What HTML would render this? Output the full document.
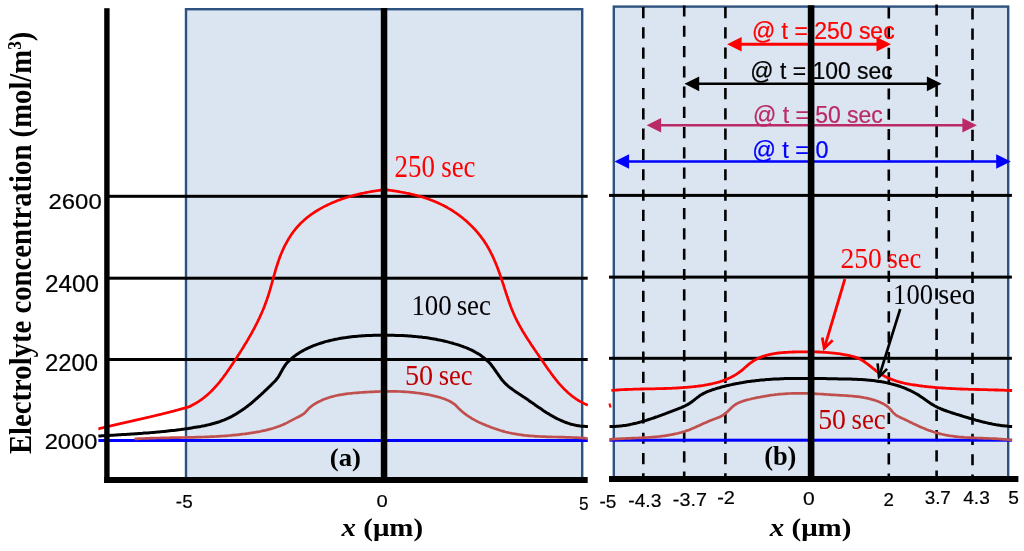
<!DOCTYPE html><html><head><meta charset="utf-8"><title>Electrolyte concentration</title>
<style>html,body{margin:0;padding:0;background:#fff;width:1024px;height:551px;overflow:hidden}svg{display:block;filter:blur(0.4px)}text{font-size:100px}</style></head><body>
<svg width="1024" height="551" viewBox="0 0 1024 551">
<rect width="1024" height="551" fill="#fff"/>
<rect x="186" y="9.2" width="396.2" height="472" fill="#DBE5F1" stroke="#2E5280" stroke-width="2.4"/>
<rect x="613.8" y="6.6" width="394.4" height="472" fill="#DBE5F1" stroke="#2E5280" stroke-width="2.4"/>
<line x1="643.3" y1="7.0" x2="643.3" y2="478" stroke="#000" stroke-width="2.6" stroke-dasharray="11.2 9.07"/>
<line x1="684.2" y1="5.4" x2="684.2" y2="478" stroke="#000" stroke-width="2.6" stroke-dasharray="11.2 9.07"/>
<line x1="725.4" y1="7.0" x2="725.4" y2="478" stroke="#000" stroke-width="2.6" stroke-dasharray="11.2 9.07"/>
<line x1="888.8" y1="7.3" x2="888.8" y2="478" stroke="#000" stroke-width="2.6" stroke-dasharray="11.2 9.07"/>
<line x1="936.6" y1="4.4" x2="936.6" y2="478" stroke="#000" stroke-width="2.6" stroke-dasharray="11.2 9.07"/>
<line x1="972.5" y1="8.2" x2="972.5" y2="478" stroke="#000" stroke-width="2.6" stroke-dasharray="11.2 9.07"/>
<rect x="109" y="194.8" width="478.7" height="3" fill="#000"/>
<rect x="109" y="276.7" width="478.7" height="3" fill="#000"/>
<rect x="109" y="358.0" width="478.7" height="3" fill="#000"/>
<rect x="609" y="193.9" width="402.9" height="3" fill="#000"/>
<rect x="609" y="275.6" width="402.9" height="3" fill="#000"/>
<rect x="609" y="356.8" width="402.9" height="3" fill="#000"/>
<rect x="98.4" y="439" width="489.4" height="3" fill="#0000FF"/>
<rect x="609.5" y="438.7" width="402.6" height="3" fill="#0000FF"/>
<path d="M134.5,438.9 L136.1,438.9 L137.6,438.8 L139.2,438.7 L140.8,438.6 L142.4,438.5 L143.9,438.5 L145.5,438.4 L147.1,438.3 L148.7,438.3 L150.2,438.2 L151.8,438.2 L153.4,438.1 L155.0,438.1 L156.6,438.0 L158.1,438.0 L159.7,438.0 L161.3,437.9 L162.9,437.9 L164.5,437.8 L166.1,437.8 L167.7,437.8 L169.2,437.8 L170.8,437.7 L172.4,437.7 L174.0,437.7 L175.6,437.6 L177.2,437.6 L178.8,437.6 L180.4,437.6 L182.0,437.5 L183.5,437.5 L185.1,437.5 L186.7,437.4 L188.3,437.4 L189.9,437.4 L191.5,437.3 L193.1,437.3 L194.7,437.3 L196.3,437.2 L197.9,437.2 L199.4,437.1 L201.0,437.1 L202.6,437.0 L204.2,437.0 L205.8,436.9 L207.4,436.9 L209.0,436.8 L210.6,436.7 L212.1,436.7 L213.7,436.6 L215.3,436.5 L216.9,436.4 L218.5,436.3 L220.1,436.2 L221.6,436.1 L223.2,436.0 L224.8,435.9 L226.4,435.8 L228.0,435.7 L229.5,435.5 L231.1,435.4 L232.7,435.2 L234.3,435.1 L235.8,434.9 L237.4,434.8 L239.0,434.6 L240.6,434.4 L242.1,434.2 L243.7,434.0 L245.3,433.8 L246.8,433.6 L248.4,433.4 L249.9,433.1 L251.5,432.9 L253.1,432.6 L254.6,432.4 L256.2,432.1 L257.7,431.8 L259.3,431.6 L260.8,431.3 L262.4,430.9 L263.9,430.6 L265.5,430.3 L267.0,429.9 L268.5,429.5 L270.0,429.1 L271.6,428.7 L273.1,428.3 L274.6,427.8 L276.1,427.3 L277.6,426.8 L279.1,426.3 L280.5,425.7 L282.0,425.1 L283.5,424.5 L284.9,423.8 L286.4,423.1 L287.8,422.4 L289.2,421.6 L290.6,420.9 L292.0,420.1 L293.5,419.4 L294.9,418.6 L296.3,417.9 L297.7,417.2 L299.1,416.5 L300.5,415.8 L301.8,415.0 L303.1,414.2 L304.3,413.3 L305.5,412.2 L306.5,411.0 L307.6,409.8 L308.7,408.6 L309.8,407.6 L311.1,406.5 L312.3,405.6 L313.6,404.7 L315.0,403.8 L316.3,403.0 L317.7,402.3 L319.1,401.5 L320.5,400.9 L321.9,400.2 L323.3,399.6 L324.8,399.0 L326.3,398.5 L327.7,398.0 L329.2,397.5 L330.7,397.0 L332.2,396.6 L333.8,396.2 L335.3,395.8 L336.8,395.5 L338.4,395.2 L339.9,394.9 L341.5,394.6 L343.1,394.4 L344.6,394.1 L346.2,393.9 L347.8,393.7 L349.4,393.5 L351.0,393.3 L352.6,393.2 L354.2,393.0 L355.8,392.9 L357.4,392.8 L359.0,392.6 L360.6,392.5 L362.2,392.4 L363.8,392.3 L365.4,392.2 L367.0,392.1 L368.6,392.0 L370.2,391.9 L371.8,391.8 L373.4,391.8 L374.9,391.7 L376.5,391.6 L378.1,391.6 L379.7,391.5 L381.3,391.5 L382.9,391.4 L384.4,391.4 L386.0,391.4 L387.6,391.4 L389.2,391.3 L390.7,391.3 L392.3,391.4 L393.9,391.4 L395.5,391.4 L397.0,391.4 L398.6,391.5 L400.2,391.5 L401.7,391.6 L403.3,391.7 L404.9,391.8 L406.4,391.9 L408.0,392.0 L409.6,392.1 L411.1,392.3 L412.7,392.4 L414.3,392.6 L415.8,392.8 L417.4,393.0 L419.0,393.2 L420.5,393.4 L422.1,393.6 L423.7,393.9 L425.2,394.1 L426.8,394.4 L428.4,394.7 L429.9,395.0 L431.5,395.4 L433.1,395.7 L434.6,396.1 L436.2,396.5 L437.8,396.9 L439.3,397.3 L440.8,397.8 L442.3,398.3 L443.9,398.8 L445.3,399.3 L446.8,399.9 L448.2,400.6 L449.6,401.2 L451.0,402.0 L452.4,402.8 L453.6,403.7 L454.9,404.6 L456.1,405.7 L457.2,406.8 L458.3,408.0 L459.4,409.1 L460.6,410.2 L461.8,411.3 L463.0,412.3 L464.2,413.3 L465.5,414.2 L466.7,415.1 L468.0,416.0 L469.3,416.9 L470.7,417.7 L472.0,418.6 L473.4,419.3 L474.8,420.1 L476.2,420.8 L477.6,421.6 L479.0,422.3 L480.5,422.9 L481.9,423.6 L483.4,424.2 L484.9,424.8 L486.3,425.5 L487.8,426.0 L489.3,426.6 L490.8,427.2 L492.3,427.7 L493.8,428.3 L495.3,428.8 L496.8,429.3 L498.3,429.8 L499.8,430.3 L501.3,430.7 L502.8,431.1 L504.3,431.6 L505.8,432.0 L507.4,432.3 L508.9,432.7 L510.4,433.0 L512.0,433.4 L513.5,433.7 L515.1,433.9 L516.6,434.2 L518.2,434.4 L519.7,434.7 L521.3,434.9 L522.9,435.1 L524.4,435.3 L526.0,435.5 L527.6,435.6 L529.2,435.8 L530.7,435.9 L532.3,436.0 L533.9,436.1 L535.5,436.3 L537.1,436.3 L538.7,436.4 L540.2,436.5 L541.8,436.6 L543.4,436.7 L545.0,436.7 L546.6,436.8 L548.2,436.8 L549.8,436.9 L551.4,436.9 L553.0,437.0 L554.6,437.0 L556.2,437.0 L557.8,437.1 L559.4,437.1 L561.0,437.2 L562.5,437.2 L564.1,437.2 L565.7,437.3 L567.3,437.3 L568.9,437.4 L570.5,437.4 L572.1,437.5 L573.6,437.6 L575.2,437.6 L576.8,437.7 L578.4,437.8 L580.0,437.9 L581.5,438.0 L583.1,438.1 L584.7,438.2 L586.2,438.4 L587.8,438.5" fill="none" stroke="#C0504D" stroke-width="2.7" stroke-linejoin="round" stroke-linecap="butt"/>
<path d="M98.4,436.0 L100.2,435.9 L102.1,435.8 L103.9,435.7 L105.8,435.6 L107.6,435.5 L109.4,435.4 L111.3,435.3 L113.1,435.2 L114.9,435.1 L116.8,434.9 L118.6,434.8 L120.4,434.7 L122.3,434.6 L124.1,434.5 L125.9,434.4 L127.8,434.3 L129.6,434.2 L131.4,434.0 L133.3,433.9 L135.1,433.8 L136.9,433.7 L138.8,433.5 L140.6,433.4 L142.4,433.3 L144.2,433.1 L146.1,433.0 L147.9,432.9 L149.7,432.7 L151.5,432.6 L153.4,432.4 L155.2,432.2 L157.0,432.1 L158.9,431.9 L160.7,431.7 L162.5,431.6 L164.3,431.4 L166.2,431.2 L168.0,431.0 L169.8,430.8 L171.6,430.6 L173.5,430.4 L175.3,430.2 L177.1,429.9 L178.9,429.7 L180.8,429.5 L182.6,429.2 L184.4,429.0 L186.2,428.7 L188.1,428.5 L189.9,428.2 L191.7,427.9 L193.5,427.6 L195.4,427.3 L197.2,427.0 L199.0,426.7 L200.8,426.4 L202.6,426.0 L204.5,425.7 L206.3,425.3 L208.1,424.9 L209.8,424.5 L211.6,424.0 L213.4,423.5 L215.2,423.0 L216.9,422.5 L218.6,422.0 L220.4,421.4 L222.1,420.7 L223.8,420.1 L225.5,419.4 L227.1,418.7 L228.8,417.9 L230.4,417.1 L232.0,416.3 L233.6,415.4 L235.2,414.5 L236.8,413.6 L238.3,412.6 L239.9,411.6 L241.4,410.6 L242.9,409.5 L244.4,408.5 L245.9,407.4 L247.4,406.3 L248.8,405.1 L250.3,404.0 L251.7,402.8 L253.1,401.6 L254.5,400.4 L255.9,399.2 L257.3,398.0 L258.7,396.7 L260.1,395.5 L261.4,394.2 L262.8,393.0 L264.1,391.7 L265.5,390.4 L266.8,389.2 L268.1,387.9 L269.4,386.6 L270.8,385.4 L272.0,384.1 L273.3,382.8 L274.6,381.5 L275.8,380.2 L276.9,378.8 L278.0,377.3 L279.0,375.8 L279.9,374.2 L280.8,372.6 L281.7,371.0 L282.6,369.3 L283.6,367.7 L284.6,366.2 L285.6,364.7 L286.7,363.2 L288.0,361.8 L289.3,360.6 L290.6,359.3 L292.0,358.1 L293.4,357.0 L294.9,355.9 L296.4,354.8 L297.9,353.8 L299.4,352.8 L301.0,351.8 L302.6,350.9 L304.2,350.0 L305.8,349.2 L307.4,348.4 L309.1,347.6 L310.8,346.8 L312.5,346.1 L314.2,345.4 L315.9,344.8 L317.7,344.2 L319.4,343.6 L321.2,343.0 L323.0,342.5 L324.7,341.9 L326.5,341.4 L328.3,341.0 L330.1,340.5 L331.9,340.1 L333.7,339.7 L335.5,339.3 L337.3,339.0 L339.1,338.6 L340.9,338.3 L342.7,338.0 L344.5,337.7 L346.3,337.5 L348.1,337.2 L349.9,337.0 L351.7,336.8 L353.6,336.6 L355.4,336.4 L357.2,336.2 L359.0,336.1 L360.8,335.9 L362.7,335.8 L364.5,335.7 L366.3,335.6 L368.1,335.5 L370.0,335.4 L371.8,335.4 L373.6,335.3 L375.5,335.3 L377.3,335.3 L379.1,335.2 L381.0,335.2 L382.8,335.2 L384.7,335.2 L386.5,335.2 L388.3,335.2 L390.2,335.2 L392.0,335.3 L393.9,335.3 L395.7,335.4 L397.5,335.4 L399.4,335.5 L401.2,335.6 L403.1,335.6 L404.9,335.7 L406.7,335.8 L408.6,336.0 L410.4,336.1 L412.2,336.2 L414.1,336.4 L415.9,336.6 L417.7,336.7 L419.6,336.9 L421.4,337.1 L423.2,337.4 L425.0,337.6 L426.9,337.8 L428.7,338.1 L430.5,338.4 L432.3,338.7 L434.1,339.0 L435.9,339.3 L437.7,339.7 L439.5,340.0 L441.3,340.4 L443.1,340.8 L444.9,341.2 L446.7,341.6 L448.5,342.1 L450.3,342.6 L452.1,343.0 L453.8,343.6 L455.6,344.1 L457.4,344.6 L459.1,345.2 L460.9,345.8 L462.6,346.4 L464.3,347.1 L466.0,347.7 L467.7,348.4 L469.4,349.2 L471.1,349.9 L472.7,350.7 L474.4,351.6 L475.9,352.5 L477.5,353.4 L479.1,354.3 L480.6,355.3 L482.0,356.4 L483.5,357.5 L484.9,358.6 L486.2,359.8 L487.6,361.0 L488.9,362.3 L490.1,363.6 L491.3,365.0 L492.4,366.5 L493.6,368.0 L494.6,369.5 L495.7,371.0 L496.8,372.6 L497.9,374.1 L498.9,375.7 L500.0,377.2 L501.1,378.7 L502.3,380.2 L503.5,381.6 L504.7,382.9 L506.0,384.2 L507.3,385.4 L508.7,386.6 L510.1,387.7 L511.6,388.8 L513.1,389.9 L514.5,390.9 L516.1,391.9 L517.6,392.9 L519.1,394.0 L520.7,395.0 L522.2,396.0 L523.7,397.0 L525.3,398.0 L526.8,399.1 L528.3,400.1 L529.8,401.2 L531.3,402.3 L532.9,403.3 L534.4,404.4 L535.9,405.5 L537.4,406.5 L538.9,407.6 L540.5,408.6 L542.0,409.6 L543.5,410.7 L545.1,411.7 L546.6,412.7 L548.2,413.6 L549.7,414.6 L551.3,415.5 L552.9,416.4 L554.5,417.3 L556.1,418.1 L557.7,419.0 L559.3,419.7 L561.0,420.5 L562.7,421.2 L564.3,421.9 L566.0,422.5 L567.7,423.1 L569.5,423.7 L571.2,424.2 L573.0,424.6 L574.7,425.1 L576.6,425.4 L578.4,425.7 L580.2,426.0 L582.1,426.2 L584.0,426.3 L585.9,426.4 L587.9,426.4" fill="none" stroke="#000000" stroke-width="3.0" stroke-linejoin="round" stroke-linecap="butt"/>
<path d="M98.4,428.8 L98.7,428.8 L99.0,428.7 L99.3,428.6 L99.6,428.5 L99.9,428.4 L100.2,428.4 L100.6,428.3 L100.9,428.2 L101.2,428.1 L101.5,428.1 L101.8,428.0 L102.1,427.9 L102.4,427.8 L102.7,427.8 L103.0,427.7 L103.3,427.6 L103.6,427.5 L103.9,427.5 L104.2,427.4 L104.5,427.3 L104.9,427.2 L105.2,427.2 L105.5,427.1 L105.8,427.0 L106.1,427.0 L106.4,426.9 L106.7,426.8 L107.0,426.7 L107.3,426.7 L107.6,426.6 L107.9,426.5 L108.2,426.4 L108.5,426.4 L108.9,426.3 L109.2,426.2 L109.5,426.1 L109.8,426.1 L110.1,426.0 L110.4,425.9 L110.7,425.9 L111.0,425.8 L111.3,425.7 L111.6,425.6 L111.9,425.6 L112.2,425.5 L112.5,425.4 L112.9,425.4 L113.2,425.3 L113.5,425.2 L113.8,425.1 L114.1,425.1 L114.4,425.0 L114.7,424.9 L115.0,424.9 L115.3,424.8 L115.6,424.7 L115.9,424.6 L116.2,424.6 L116.5,424.5 L116.9,424.4 L117.2,424.4 L117.5,424.3 L117.8,424.2 L118.1,424.1 L118.4,424.1 L118.7,424.0 L119.0,423.9 L119.3,423.9 L119.6,423.8 L119.9,423.7 L120.2,423.6 L120.6,423.6 L120.9,423.5 L121.2,423.4 L121.5,423.4 L121.8,423.3 L122.1,423.2 L122.4,423.2 L122.7,423.1 L123.0,423.0 L123.3,422.9 L123.6,422.9 L123.9,422.8 L124.3,422.7 L124.6,422.7 L124.9,422.6 L125.2,422.5 L125.5,422.5 L125.8,422.4 L126.1,422.3 L126.4,422.2 L126.7,422.2 L127.0,422.1 L127.3,422.0 L127.6,422.0 L128.0,421.9 L128.3,421.8 L128.6,421.8 L128.9,421.7 L129.2,421.6 L129.5,421.5 L129.8,421.5 L130.1,421.4 L130.4,421.3 L130.7,421.3 L131.0,421.2 L131.4,421.1 L131.7,421.1 L132.0,421.0 L132.3,420.9 L132.6,420.8 L132.9,420.8 L133.2,420.7 L133.5,420.6 L133.8,420.6 L134.1,420.5 L134.4,420.4 L134.7,420.4 L135.1,420.3 L135.4,420.2 L135.7,420.2 L136.0,420.1 L136.3,420.0 L136.6,419.9 L136.9,419.9 L137.2,419.8 L137.5,419.7 L137.8,419.7 L138.1,419.6 L138.4,419.5 L138.8,419.5 L139.1,419.4 L139.4,419.3 L139.7,419.2 L140.0,419.2 L140.3,419.1 L140.6,419.0 L140.9,419.0 L141.2,418.9 L141.5,418.8 L141.8,418.8 L142.1,418.7 L142.5,418.6 L142.8,418.5 L143.1,418.5 L143.4,418.4 L143.7,418.3 L144.0,418.3 L144.3,418.2 L144.6,418.1 L144.9,418.0 L145.2,418.0 L145.5,417.9 L145.8,417.8 L146.2,417.8 L146.5,417.7 L146.8,417.6 L147.1,417.5 L147.4,417.5 L147.7,417.4 L148.0,417.3 L148.3,417.3 L148.6,417.2 L148.9,417.1 L149.2,417.0 L149.5,417.0 L149.9,416.9 L150.2,416.8 L150.5,416.8 L150.8,416.7 L151.1,416.6 L151.4,416.5 L151.7,416.5 L152.0,416.4 L152.3,416.3 L152.6,416.3 L152.9,416.2 L153.2,416.1 L153.5,416.0 L153.9,416.0 L154.2,415.9 L154.5,415.8 L154.8,415.7 L155.1,415.7 L155.4,415.6 L155.7,415.5 L156.0,415.5 L156.3,415.4 L156.6,415.3 L156.9,415.2 L157.2,415.2 L157.5,415.1 L157.9,415.0 L158.2,414.9 L158.5,414.9 L158.8,414.8 L159.1,414.7 L159.4,414.6 L159.7,414.6 L160.0,414.5 L160.3,414.4 L160.6,414.3 L160.9,414.3 L161.2,414.2 L161.5,414.1 L161.8,414.0 L162.2,414.0 L162.5,413.9 L162.8,413.8 L163.1,413.7 L163.4,413.7 L163.7,413.6 L164.0,413.5 L164.3,413.4 L164.6,413.4 L164.9,413.3 L165.2,413.2 L165.5,413.1 L165.8,413.1 L166.1,413.0 L166.4,412.9 L166.8,412.8 L167.1,412.7 L167.4,412.7 L167.7,412.6 L168.0,412.5 L168.3,412.4 L168.6,412.4 L168.9,412.3 L169.2,412.2 L169.5,412.1 L169.8,412.0 L170.1,412.0 L170.4,411.9 L170.7,411.8 L171.0,411.7 L171.3,411.6 L171.7,411.6 L172.0,411.5 L172.3,411.4 L172.6,411.3 L172.9,411.3 L173.2,411.2 L173.5,411.1 L173.8,411.0 L174.1,410.9 L174.4,410.8 L174.7,410.8 L175.0,410.7 L175.3,410.6 L175.6,410.5 L175.9,410.4 L176.2,410.4 L176.5,410.3 L176.8,410.2 L177.2,410.1 L177.5,410.0 L177.8,409.9 L178.1,409.9 L178.4,409.8 L178.7,409.7 L179.0,409.6 L179.3,409.5 L179.6,409.4 L179.9,409.4 L180.2,409.3 L180.5,409.2 L180.8,409.1 L181.1,409.0 L181.4,408.9 L181.7,408.9 L182.0,408.8 L182.3,408.7 L182.6,408.6 L182.9,408.5 L183.2,408.4 L183.6,408.3 L183.9,408.3 L184.2,408.2 L184.5,408.1 L184.8,408.0 L185.1,407.9 L185.4,407.8 L185.7,407.7 L186.0,407.6 L186.3,407.6 L186.6,407.5 L186.9,407.4 L187.2,407.3 L187.5,407.2 L187.8,407.1 L188.1,407.0 L188.4,406.9 L188.7,406.8 L189.0,406.8 L189.3,406.7 L189.6,406.6 L189.9,406.5 L190.2,406.4 L190.0,406.2 L191.0,405.8 L192.0,405.3 L192.9,404.8 L193.9,404.3 L194.8,403.8 L195.8,403.2 L196.7,402.7 L197.6,402.1 L198.5,401.6 L199.3,401.0 L200.2,400.4 L201.1,399.8 L201.9,399.2 L202.7,398.6 L203.6,398.0 L204.4,397.3 L205.2,396.7 L206.0,396.0 L206.8,395.4 L207.5,394.7 L208.3,394.0 L209.1,393.3 L209.8,392.6 L210.6,391.9 L211.3,391.2 L212.0,390.5 L212.7,389.7 L213.4,389.0 L214.2,388.3 L214.8,387.5 L215.5,386.7 L216.2,386.0 L216.9,385.2 L217.6,384.4 L218.2,383.6 L218.9,382.9 L219.5,382.1 L220.2,381.3 L220.8,380.4 L221.4,379.6 L222.1,378.8 L222.7,378.0 L223.3,377.2 L223.9,376.3 L224.5,375.5 L225.2,374.7 L225.8,373.8 L226.4,373.0 L227.0,372.1 L227.5,371.3 L228.1,370.4 L228.7,369.6 L229.3,368.7 L229.9,367.9 L230.5,367.0 L231.1,366.1 L231.6,365.3 L232.2,364.4 L232.8,363.6 L233.4,362.7 L233.9,361.8 L234.5,360.9 L235.1,360.1 L235.7,359.2 L236.2,358.3 L236.8,357.5 L237.4,356.6 L237.9,355.7 L238.5,354.8 L239.1,354.0 L239.6,353.1 L240.2,352.2 L240.7,351.3 L241.3,350.4 L241.8,349.6 L242.4,348.7 L243.0,347.8 L243.5,346.9 L244.0,346.0 L244.6,345.1 L245.1,344.2 L245.7,343.3 L246.2,342.5 L246.7,341.6 L247.3,340.7 L247.8,339.8 L248.3,338.9 L248.8,338.0 L249.4,337.1 L249.9,336.2 L250.4,335.3 L250.9,334.4 L251.4,333.5 L251.9,332.6 L252.4,331.6 L252.9,330.7 L253.4,329.8 L253.9,328.9 L254.4,328.0 L254.9,327.1 L255.3,326.2 L255.8,325.2 L256.3,324.3 L256.7,323.4 L257.2,322.5 L257.7,321.5 L258.1,320.6 L258.6,319.7 L259.0,318.8 L259.5,317.8 L259.9,316.9 L260.3,315.9 L260.7,315.0 L261.2,314.1 L261.6,313.1 L262.0,312.2 L262.4,311.2 L262.8,310.3 L263.2,309.3 L263.6,308.4 L264.0,307.4 L264.4,306.5 L264.7,305.5 L265.1,304.5 L265.5,303.6 L265.8,302.6 L266.2,301.6 L266.5,300.7 L266.9,299.7 L267.2,298.7 L267.5,297.7 L267.9,296.8 L268.2,295.8 L268.5,294.8 L268.8,293.8 L269.1,292.8 L269.4,291.8 L269.7,290.8 L270.0,289.9 L270.3,288.9 L270.6,287.9 L270.9,286.9 L271.1,285.9 L271.4,284.9 L271.7,283.9 L272.0,282.9 L272.3,281.9 L272.5,280.9 L272.8,279.9 L273.1,278.9 L273.4,277.9 L273.6,276.9 L273.9,275.9 L274.2,274.9 L274.5,273.9 L274.8,272.9 L275.1,271.9 L275.3,270.9 L275.6,269.9 L275.9,268.9 L276.2,267.9 L276.5,266.9 L276.8,265.9 L277.2,265.0 L277.5,264.0 L277.8,263.0 L278.1,262.0 L278.5,261.0 L278.8,260.1 L279.2,259.1 L279.5,258.1 L279.9,257.1 L280.2,256.2 L280.6,255.2 L281.0,254.2 L281.4,253.3 L281.8,252.3 L282.2,251.4 L282.6,250.4 L283.1,249.5 L283.5,248.5 L283.9,247.6 L284.4,246.7 L284.8,245.7 L285.3,244.8 L285.8,243.9 L286.3,243.0 L286.8,242.1 L287.3,241.2 L287.8,240.3 L288.3,239.4 L288.8,238.5 L289.4,237.7 L289.9,236.8 L290.5,235.9 L291.0,235.1 L291.6,234.2 L292.2,233.4 L292.8,232.6 L293.4,231.7 L294.0,230.9 L294.7,230.1 L295.3,229.3 L295.9,228.5 L296.6,227.8 L297.3,227.0 L297.9,226.2 L298.6,225.5 L299.3,224.8 L300.0,224.0 L300.7,223.3 L301.5,222.6 L302.2,221.9 L303.0,221.2 L303.7,220.5 L304.5,219.8 L305.2,219.2 L306.0,218.5 L306.8,217.8 L307.6,217.2 L308.4,216.6 L309.2,215.9 L310.1,215.3 L310.9,214.7 L311.7,214.1 L312.6,213.5 L313.4,213.0 L314.3,212.4 L315.1,211.8 L316.0,211.3 L316.9,210.7 L317.8,210.2 L318.7,209.6 L319.6,209.1 L320.5,208.6 L321.4,208.1 L322.3,207.6 L323.2,207.1 L324.1,206.6 L325.1,206.1 L326.0,205.7 L327.0,205.2 L327.9,204.7 L328.9,204.3 L329.8,203.9 L330.8,203.4 L331.7,203.0 L332.7,202.6 L333.7,202.2 L334.6,201.8 L335.6,201.4 L336.6,201.0 L337.6,200.6 L338.6,200.2 L339.6,199.9 L340.6,199.5 L341.6,199.1 L342.6,198.8 L343.6,198.5 L344.6,198.1 L345.6,197.8 L346.6,197.5 L347.6,197.2 L348.6,196.8 L349.6,196.5 L350.7,196.3 L351.7,196.0 L352.7,195.7 L353.7,195.4 L354.7,195.1 L355.7,194.9 L356.8,194.6 L357.8,194.4 L358.8,194.1 L359.8,193.9 L360.8,193.6 L361.9,193.4 L362.9,193.2 L363.9,193.0 L364.9,192.8 L365.9,192.6 L367.0,192.4 L368.0,192.2 L369.0,192.0 L370.0,191.8 L371.0,191.6 L372.0,191.4 L373.0,191.3 L374.0,191.1 L375.0,191.0 L376.0,190.8 L377.0,190.7 L378.0,190.5 L379.0,190.4 L380.0,190.3 L381.0,190.1 L381.9,190.0 L382.9,189.9 L383.9,189.8 L383.9,189.5 L385.0,189.7 L386.0,189.8 L387.1,189.9 L388.1,190.1 L389.2,190.2 L390.2,190.3 L391.3,190.5 L392.3,190.6 L393.4,190.8 L394.4,190.9 L395.5,191.1 L396.5,191.3 L397.6,191.4 L398.6,191.6 L399.7,191.8 L400.7,192.0 L401.7,192.2 L402.8,192.4 L403.8,192.5 L404.9,192.7 L405.9,193.0 L406.9,193.2 L408.0,193.4 L409.0,193.6 L410.0,193.8 L411.0,194.1 L412.1,194.3 L413.1,194.5 L414.1,194.8 L415.1,195.1 L416.1,195.3 L417.1,195.6 L418.2,195.9 L419.2,196.1 L420.2,196.4 L421.2,196.7 L422.2,197.0 L423.2,197.3 L424.2,197.6 L425.2,198.0 L426.2,198.3 L427.2,198.6 L428.1,199.0 L429.1,199.3 L430.1,199.7 L431.1,200.0 L432.1,200.4 L433.0,200.8 L434.0,201.2 L435.0,201.6 L435.9,202.0 L436.9,202.4 L437.8,202.8 L438.8,203.3 L439.7,203.7 L440.7,204.1 L441.6,204.6 L442.6,205.1 L443.5,205.5 L444.4,206.0 L445.4,206.5 L446.3,207.0 L447.2,207.5 L448.1,208.1 L449.1,208.6 L450.0,209.1 L450.9,209.7 L451.8,210.2 L452.7,210.8 L453.6,211.4 L454.4,212.0 L455.3,212.6 L456.2,213.2 L457.1,213.8 L457.9,214.4 L458.8,215.0 L459.6,215.7 L460.5,216.3 L461.3,217.0 L462.2,217.6 L463.0,218.3 L463.8,219.0 L464.7,219.7 L465.5,220.3 L466.3,221.0 L467.1,221.8 L467.9,222.5 L468.6,223.2 L469.4,223.9 L470.2,224.7 L471.0,225.4 L471.7,226.2 L472.5,226.9 L473.2,227.7 L473.9,228.5 L474.7,229.2 L475.4,230.0 L476.1,230.8 L476.8,231.6 L477.5,232.4 L478.1,233.2 L478.8,234.0 L479.5,234.9 L480.1,235.7 L480.8,236.5 L481.4,237.4 L482.0,238.2 L482.7,239.1 L483.3,239.9 L483.9,240.8 L484.5,241.7 L485.0,242.6 L485.6,243.4 L486.2,244.3 L486.7,245.2 L487.2,246.1 L487.8,247.0 L488.3,247.9 L488.8,248.8 L489.3,249.7 L489.8,250.7 L490.3,251.6 L490.8,252.5 L491.2,253.4 L491.7,254.4 L492.2,255.3 L492.6,256.2 L493.1,257.2 L493.5,258.1 L493.9,259.1 L494.3,260.0 L494.7,261.0 L495.2,262.0 L495.6,262.9 L496.0,263.9 L496.4,264.9 L496.7,265.8 L497.1,266.8 L497.5,267.8 L497.9,268.8 L498.2,269.8 L498.6,270.7 L499.0,271.7 L499.3,272.7 L499.7,273.7 L500.0,274.7 L500.4,275.7 L500.7,276.7 L501.0,277.7 L501.4,278.7 L501.7,279.7 L502.0,280.7 L502.4,281.7 L502.7,282.6 L503.0,283.6 L503.3,284.6 L503.7,285.6 L504.0,286.6 L504.3,287.6 L504.6,288.6 L504.9,289.6 L505.3,290.6 L505.6,291.6 L505.9,292.6 L506.2,293.6 L506.6,294.6 L506.9,295.6 L507.2,296.6 L507.6,297.6 L507.9,298.6 L508.2,299.6 L508.6,300.6 L508.9,301.6 L509.3,302.6 L509.6,303.6 L510.0,304.5 L510.4,305.5 L510.7,306.5 L511.1,307.5 L511.5,308.4 L511.9,309.4 L512.3,310.4 L512.7,311.4 L513.1,312.3 L513.5,313.3 L513.9,314.2 L514.3,315.2 L514.8,316.1 L515.2,317.1 L515.6,318.0 L516.1,319.0 L516.6,319.9 L517.0,320.9 L517.5,321.8 L518.0,322.7 L518.5,323.6 L519.0,324.6 L519.5,325.5 L520.0,326.4 L520.5,327.3 L521.0,328.2 L521.6,329.1 L522.1,330.1 L522.6,331.0 L523.2,331.9 L523.7,332.8 L524.3,333.7 L524.8,334.6 L525.4,335.5 L525.9,336.4 L526.5,337.3 L527.1,338.2 L527.6,339.0 L528.2,339.9 L528.8,340.8 L529.4,341.7 L530.0,342.6 L530.6,343.5 L531.1,344.4 L531.7,345.3 L532.3,346.1 L532.9,347.0 L533.5,347.9 L534.1,348.8 L534.7,349.7 L535.3,350.5 L535.9,351.4 L536.5,352.3 L537.1,353.2 L537.7,354.0 L538.3,354.9 L538.9,355.8 L539.5,356.7 L540.1,357.5 L540.7,358.4 L541.3,359.3 L541.9,360.2 L542.5,361.1 L543.1,361.9 L543.7,362.8 L544.3,363.7 L544.9,364.6 L545.5,365.4 L546.1,366.3 L546.7,367.2 L547.3,368.0 L547.9,368.9 L548.5,369.8 L549.2,370.6 L549.8,371.5 L550.4,372.3 L551.0,373.2 L551.6,374.0 L552.2,374.9 L552.9,375.7 L553.5,376.6 L554.1,377.4 L554.8,378.2 L555.4,379.0 L556.1,379.9 L556.7,380.7 L557.4,381.5 L558.0,382.3 L558.7,383.1 L559.4,383.9 L560.1,384.6 L560.8,385.4 L561.5,386.2 L562.2,386.9 L562.9,387.7 L563.6,388.4 L564.3,389.2 L565.1,389.9 L565.8,390.6 L566.6,391.3 L567.3,392.0 L568.1,392.7 L568.9,393.4 L569.7,394.1 L570.5,394.8 L571.3,395.4 L572.1,396.1 L572.9,396.7 L573.8,397.3 L574.6,397.9 L575.5,398.5 L576.3,399.1 L577.2,399.7 L578.1,400.3 L579.0,400.8 L580.0,401.4 L580.9,401.9 L581.9,402.4 L582.8,402.9 L583.8,403.4 L584.8,403.9 L585.8,404.3 L586.8,404.8 L587.8,405.2" fill="none" stroke="#FF0000" stroke-width="2.7" stroke-linejoin="round" stroke-linecap="butt"/>
<path d="M609.5,439.4 L610.9,439.3 L612.3,439.2 L613.7,439.1 L615.1,439.0 L616.5,438.9 L617.9,438.8 L619.3,438.8 L620.7,438.7 L622.1,438.6 L623.5,438.6 L624.9,438.5 L626.3,438.4 L627.8,438.4 L629.2,438.3 L630.6,438.3 L632.0,438.2 L633.4,438.2 L634.8,438.1 L636.3,438.0 L637.7,438.0 L639.1,437.9 L640.5,437.9 L641.9,437.8 L643.3,437.7 L644.8,437.6 L646.2,437.6 L647.6,437.5 L649.0,437.4 L650.4,437.3 L651.8,437.2 L653.3,437.1 L654.7,436.9 L656.1,436.8 L657.5,436.7 L658.9,436.5 L660.3,436.4 L661.7,436.2 L663.1,436.0 L664.5,435.8 L665.9,435.6 L667.3,435.4 L668.7,435.2 L670.0,434.9 L671.4,434.7 L672.8,434.4 L674.2,434.1 L675.5,433.8 L676.9,433.5 L678.3,433.2 L679.6,432.8 L681.0,432.5 L682.3,432.1 L683.7,431.7 L685.0,431.3 L686.3,430.8 L687.7,430.4 L689.0,429.9 L690.3,429.4 L691.6,428.8 L692.9,428.3 L694.2,427.7 L695.5,427.2 L696.8,426.6 L698.1,426.0 L699.4,425.4 L700.7,424.8 L702.0,424.2 L703.3,423.6 L704.6,423.0 L705.9,422.5 L707.2,421.9 L708.5,421.3 L709.8,420.8 L711.1,420.2 L712.4,419.7 L713.8,419.2 L715.1,418.8 L716.4,418.3 L717.7,417.8 L719.0,417.2 L720.2,416.7 L721.5,416.0 L722.7,415.4 L723.8,414.6 L725.0,413.8 L726.0,412.9 L727.1,412.0 L728.1,411.0 L729.2,410.0 L730.2,409.0 L731.2,408.0 L732.3,407.0 L733.3,406.1 L734.5,405.2 L735.6,404.5 L736.8,403.7 L738.0,403.1 L739.3,402.5 L740.6,402.0 L741.9,401.5 L743.2,401.0 L744.6,400.6 L746.0,400.2 L747.3,399.8 L748.7,399.5 L750.1,399.2 L751.5,398.8 L752.9,398.5 L754.3,398.2 L755.7,397.9 L757.0,397.6 L758.4,397.3 L759.8,397.1 L761.2,396.8 L762.6,396.6 L764.0,396.3 L765.4,396.1 L766.8,395.9 L768.2,395.6 L769.6,395.4 L771.0,395.2 L772.4,395.0 L773.8,394.9 L775.2,394.7 L776.6,394.5 L778.0,394.4 L779.4,394.2 L780.8,394.1 L782.2,394.0 L783.6,393.9 L785.0,393.8 L786.4,393.7 L787.8,393.6 L789.2,393.5 L790.6,393.5 L792.0,393.4 L793.5,393.4 L794.9,393.3 L796.3,393.3 L797.7,393.3 L799.1,393.3 L800.5,393.3 L801.9,393.3 L803.3,393.3 L804.7,393.4 L806.1,393.4 L807.5,393.4 L808.9,393.5 L810.4,393.5 L811.8,393.6 L813.2,393.7 L814.6,393.7 L816.0,393.8 L817.4,393.9 L818.8,394.0 L820.2,394.0 L821.6,394.1 L823.1,394.2 L824.5,394.3 L825.9,394.4 L827.3,394.5 L828.7,394.6 L830.1,394.7 L831.5,394.8 L832.9,394.8 L834.4,394.9 L835.8,395.0 L837.2,395.1 L838.6,395.2 L840.0,395.3 L841.4,395.3 L842.8,395.4 L844.2,395.5 L845.6,395.6 L847.0,395.7 L848.5,395.8 L849.9,395.9 L851.3,396.0 L852.7,396.1 L854.1,396.3 L855.5,396.4 L856.9,396.6 L858.3,396.7 L859.7,396.9 L861.0,397.1 L862.4,397.3 L863.8,397.6 L865.2,397.8 L866.6,398.1 L868.0,398.4 L869.3,398.7 L870.7,399.1 L872.1,399.5 L873.5,399.9 L874.8,400.3 L876.2,400.8 L877.5,401.3 L878.8,401.8 L880.1,402.3 L881.4,402.9 L882.7,403.5 L883.9,404.2 L885.1,404.9 L886.3,405.7 L887.4,406.5 L888.5,407.4 L889.5,408.4 L890.5,409.5 L891.4,410.5 L892.3,411.6 L893.2,412.6 L894.2,413.6 L895.3,414.5 L896.4,415.3 L897.6,416.0 L898.8,416.6 L900.1,417.3 L901.4,417.9 L902.6,418.5 L903.9,419.1 L905.2,419.7 L906.5,420.3 L907.7,420.9 L909.0,421.6 L910.3,422.2 L911.6,422.8 L912.8,423.4 L914.1,424.0 L915.4,424.6 L916.7,425.2 L918.0,425.8 L919.3,426.4 L920.6,427.0 L921.8,427.6 L923.1,428.1 L924.5,428.6 L925.8,429.2 L927.1,429.7 L928.4,430.2 L929.7,430.6 L931.0,431.1 L932.4,431.5 L933.7,432.0 L935.1,432.4 L936.4,432.8 L937.8,433.1 L939.1,433.5 L940.5,433.9 L941.8,434.2 L943.2,434.5 L944.6,434.8 L945.9,435.1 L947.3,435.3 L948.7,435.6 L950.1,435.8 L951.5,436.0 L952.9,436.2 L954.3,436.4 L955.7,436.6 L957.1,436.7 L958.5,436.9 L959.9,437.0 L961.3,437.1 L962.7,437.2 L964.1,437.4 L965.5,437.5 L966.9,437.5 L968.3,437.6 L969.8,437.7 L971.2,437.8 L972.6,437.9 L974.0,437.9 L975.4,438.0 L976.8,438.0 L978.3,438.1 L979.7,438.1 L981.1,438.2 L982.5,438.2 L984.0,438.3 L985.4,438.3 L986.8,438.4 L988.2,438.4 L989.6,438.5 L991.0,438.5 L992.5,438.6 L993.9,438.7 L995.3,438.7 L996.7,438.8 L998.1,438.9 L999.5,439.0 L1000.9,439.1 L1002.3,439.2 L1003.7,439.3 L1005.1,439.4 L1006.5,439.5 L1007.9,439.7 L1009.3,439.8 L1010.7,440.0 L1012.1,440.1" fill="none" stroke="#C0504D" stroke-width="2.7" stroke-linejoin="round" stroke-linecap="butt"/>
<path d="M609.5,426.5 L610.9,426.5 L612.3,426.5 L613.8,426.4 L615.2,426.4 L616.6,426.3 L618.0,426.2 L619.4,426.1 L620.8,425.9 L622.2,425.8 L623.6,425.6 L625.0,425.4 L626.4,425.2 L627.8,424.9 L629.1,424.7 L630.5,424.4 L631.9,424.1 L633.3,423.8 L634.6,423.5 L636.0,423.2 L637.3,422.9 L638.7,422.5 L640.1,422.1 L641.4,421.8 L642.8,421.4 L644.1,421.0 L645.4,420.6 L646.8,420.2 L648.1,419.7 L649.5,419.3 L650.8,418.9 L652.1,418.4 L653.5,418.0 L654.8,417.5 L656.1,417.0 L657.5,416.6 L658.8,416.1 L660.1,415.6 L661.5,415.1 L662.8,414.6 L664.1,414.2 L665.5,413.7 L666.8,413.2 L668.1,412.7 L669.4,412.2 L670.8,411.7 L672.1,411.2 L673.4,410.7 L674.7,410.2 L676.0,409.7 L677.3,409.2 L678.6,408.6 L679.9,408.1 L681.2,407.6 L682.5,407.0 L683.8,406.5 L685.1,405.9 L686.3,405.2 L687.5,404.6 L688.7,403.9 L689.9,403.1 L691.1,402.4 L692.2,401.5 L693.3,400.7 L694.4,399.8 L695.5,398.9 L696.6,398.1 L697.7,397.2 L698.9,396.4 L700.0,395.5 L701.2,394.8 L702.4,394.1 L703.6,393.4 L704.9,392.8 L706.2,392.2 L707.4,391.7 L708.8,391.1 L710.1,390.6 L711.4,390.2 L712.7,389.7 L714.1,389.3 L715.4,388.9 L716.8,388.4 L718.1,388.0 L719.5,387.7 L720.8,387.3 L722.2,386.9 L723.5,386.5 L724.9,386.2 L726.3,385.8 L727.6,385.5 L729.0,385.2 L730.4,384.9 L731.7,384.6 L733.1,384.3 L734.5,384.0 L735.8,383.7 L737.2,383.4 L738.6,383.2 L740.0,382.9 L741.3,382.7 L742.7,382.5 L744.1,382.2 L745.5,382.0 L746.9,381.8 L748.3,381.6 L749.6,381.4 L751.0,381.2 L752.4,381.0 L753.8,380.9 L755.2,380.7 L756.6,380.5 L758.0,380.4 L759.4,380.2 L760.8,380.1 L762.2,380.0 L763.6,379.9 L765.0,379.7 L766.4,379.6 L767.8,379.5 L769.2,379.4 L770.6,379.3 L772.0,379.2 L773.4,379.1 L774.8,379.1 L776.2,379.0 L777.6,378.9 L779.0,378.9 L780.4,378.8 L781.8,378.7 L783.2,378.7 L784.7,378.6 L786.1,378.6 L787.5,378.6 L788.9,378.5 L790.3,378.5 L791.7,378.5 L793.1,378.4 L794.5,378.4 L796.0,378.4 L797.4,378.4 L798.8,378.4 L800.2,378.4 L801.6,378.4 L803.0,378.4 L804.4,378.4 L805.9,378.4 L807.3,378.4 L808.7,378.4 L810.1,378.4 L811.5,378.4 L812.9,378.4 L814.4,378.5 L815.8,378.5 L817.2,378.5 L818.6,378.5 L820.0,378.5 L821.4,378.6 L822.8,378.6 L824.3,378.6 L825.7,378.6 L827.1,378.7 L828.5,378.7 L829.9,378.7 L831.3,378.7 L832.7,378.8 L834.2,378.8 L835.6,378.8 L837.0,378.8 L838.4,378.9 L839.8,378.9 L841.2,378.9 L842.6,378.9 L844.0,379.0 L845.4,379.0 L846.8,379.0 L848.2,379.1 L849.6,379.1 L851.0,379.1 L852.4,379.2 L853.9,379.2 L855.3,379.3 L856.7,379.3 L858.1,379.4 L859.5,379.5 L860.8,379.6 L862.2,379.6 L863.6,379.7 L865.0,379.8 L866.4,379.9 L867.8,380.1 L869.2,380.2 L870.6,380.3 L872.0,380.5 L873.4,380.6 L874.7,380.8 L876.1,381.0 L877.5,381.2 L878.9,381.4 L880.3,381.6 L881.6,381.8 L883.0,382.1 L884.4,382.3 L885.8,382.6 L887.1,382.9 L888.5,383.2 L889.9,383.5 L891.2,383.9 L892.6,384.2 L894.0,384.6 L895.3,385.0 L896.7,385.4 L898.0,385.8 L899.4,386.2 L900.7,386.7 L902.0,387.2 L903.4,387.7 L904.7,388.2 L906.0,388.7 L907.3,389.3 L908.6,389.8 L909.9,390.4 L911.2,391.0 L912.4,391.7 L913.7,392.3 L914.9,393.0 L916.2,393.7 L917.4,394.4 L918.6,395.1 L919.8,395.9 L921.0,396.7 L922.1,397.5 L923.3,398.3 L924.4,399.1 L925.6,399.9 L926.7,400.7 L927.8,401.5 L929.0,402.3 L930.1,403.1 L931.3,403.9 L932.5,404.6 L933.7,405.3 L934.9,406.0 L936.1,406.6 L937.4,407.3 L938.7,407.9 L939.9,408.4 L941.2,409.0 L942.5,409.5 L943.8,410.0 L945.2,410.5 L946.5,411.0 L947.8,411.4 L949.2,411.9 L950.5,412.3 L951.9,412.8 L953.2,413.2 L954.6,413.6 L955.9,414.1 L957.3,414.5 L958.6,414.9 L960.0,415.3 L961.3,415.7 L962.7,416.2 L964.0,416.6 L965.4,417.0 L966.7,417.4 L968.1,417.8 L969.4,418.2 L970.8,418.6 L972.1,419.0 L973.5,419.4 L974.8,419.8 L976.2,420.2 L977.5,420.5 L978.9,420.9 L980.3,421.3 L981.6,421.6 L983.0,422.0 L984.3,422.3 L985.7,422.6 L987.1,422.9 L988.4,423.3 L989.8,423.5 L991.2,423.8 L992.5,424.1 L993.9,424.4 L995.3,424.6 L996.7,424.9 L998.1,425.1 L999.5,425.3 L1000.9,425.5 L1002.2,425.7 L1003.6,425.8 L1005.0,426.0 L1006.5,426.1 L1007.9,426.3 L1009.3,426.4 L1010.7,426.5 L1012.1,426.5" fill="none" stroke="#000000" stroke-width="3.0" stroke-linejoin="round" stroke-linecap="butt"/>
<path d="M611.4,390.4 L612.8,390.3 L614.2,390.2 L615.6,390.1 L617.0,390.0 L618.4,389.9 L619.8,389.8 L621.2,389.7 L622.5,389.6 L623.9,389.6 L625.3,389.5 L626.7,389.5 L628.1,389.4 L629.5,389.3 L630.9,389.3 L632.3,389.3 L633.7,389.2 L635.1,389.2 L636.5,389.1 L637.9,389.1 L639.3,389.1 L640.7,389.0 L642.1,389.0 L643.5,389.0 L644.9,388.9 L646.3,388.9 L647.7,388.9 L649.1,388.9 L650.5,388.8 L651.9,388.8 L653.3,388.8 L654.7,388.8 L656.1,388.7 L657.5,388.7 L658.9,388.7 L660.3,388.6 L661.6,388.6 L663.0,388.6 L664.4,388.5 L665.8,388.5 L667.2,388.4 L668.6,388.4 L670.0,388.3 L671.4,388.3 L672.8,388.2 L674.2,388.1 L675.6,388.1 L677.0,388.0 L678.4,387.9 L679.8,387.8 L681.2,387.7 L682.6,387.7 L684.0,387.5 L685.3,387.4 L686.7,387.3 L688.1,387.2 L689.5,387.1 L690.9,386.9 L692.3,386.8 L693.7,386.7 L695.1,386.5 L696.5,386.3 L697.8,386.2 L699.2,386.0 L700.6,385.8 L702.0,385.6 L703.4,385.4 L704.8,385.1 L706.1,384.9 L707.5,384.7 L708.9,384.4 L710.3,384.1 L711.6,383.8 L713.0,383.5 L714.3,383.2 L715.7,382.9 L717.0,382.5 L718.4,382.2 L719.7,381.8 L721.0,381.3 L722.4,380.9 L723.7,380.4 L725.0,379.9 L726.2,379.4 L727.5,378.9 L728.8,378.3 L730.1,377.8 L731.3,377.1 L732.5,376.5 L733.8,375.8 L735.0,375.1 L736.2,374.4 L737.3,373.6 L738.5,372.8 L739.6,372.0 L740.8,371.2 L741.9,370.3 L743.0,369.4 L744.0,368.5 L745.0,367.5 L746.1,366.6 L747.1,365.7 L748.2,364.8 L749.2,363.9 L750.3,363.1 L751.4,362.3 L752.6,361.5 L753.7,360.7 L754.9,360.0 L756.1,359.4 L757.3,358.8 L758.5,358.2 L759.7,357.6 L761.0,357.1 L762.3,356.6 L763.6,356.2 L764.9,355.8 L766.2,355.4 L767.6,355.0 L768.9,354.7 L770.3,354.4 L771.6,354.1 L773.0,353.8 L774.4,353.6 L775.8,353.4 L777.2,353.2 L778.6,353.0 L780.0,352.8 L781.5,352.7 L782.9,352.6 L784.3,352.5 L785.7,352.4 L787.2,352.3 L788.6,352.2 L790.0,352.1 L791.4,352.1 L792.9,352.0 L794.3,352.0 L795.7,351.9 L797.1,351.9 L798.5,351.9 L799.9,351.8 L801.3,351.8 L802.7,351.8 L804.1,351.8 L805.5,351.8 L806.9,351.8 L808.3,351.8 L809.7,351.8 L811.0,351.8 L812.4,351.8 L813.8,351.9 L815.2,351.9 L816.5,351.9 L817.9,352.0 L819.3,352.0 L820.7,352.1 L822.0,352.2 L823.4,352.3 L824.8,352.3 L826.1,352.4 L827.5,352.6 L828.9,352.7 L830.3,352.8 L831.6,352.9 L833.0,353.1 L834.4,353.2 L835.8,353.4 L837.2,353.6 L838.6,353.7 L840.0,353.9 L841.4,354.1 L842.8,354.4 L844.2,354.6 L845.6,354.8 L847.0,355.1 L848.4,355.4 L849.8,355.7 L851.2,356.0 L852.5,356.4 L853.9,356.8 L855.2,357.2 L856.5,357.6 L857.8,358.1 L859.0,358.7 L860.3,359.3 L861.4,359.9 L862.6,360.6 L863.7,361.3 L864.8,362.0 L865.9,362.8 L867.0,363.6 L868.1,364.5 L869.2,365.3 L870.3,366.2 L871.4,367.1 L872.5,368.0 L873.6,368.9 L874.7,369.7 L875.8,370.6 L876.9,371.4 L878.1,372.3 L879.2,373.1 L880.4,373.8 L881.6,374.5 L882.8,375.2 L884.0,375.9 L885.2,376.6 L886.5,377.2 L887.7,377.8 L889.0,378.3 L890.3,378.8 L891.6,379.4 L892.9,379.8 L894.2,380.3 L895.5,380.7 L896.8,381.2 L898.1,381.6 L899.5,381.9 L900.8,382.3 L902.2,382.6 L903.5,383.0 L904.9,383.3 L906.3,383.6 L907.6,383.8 L909.0,384.1 L910.4,384.4 L911.8,384.6 L913.2,384.8 L914.6,385.0 L915.9,385.2 L917.3,385.4 L918.7,385.6 L920.1,385.8 L921.5,386.0 L922.9,386.2 L924.3,386.3 L925.7,386.5 L927.1,386.6 L928.5,386.8 L929.9,386.9 L931.3,387.1 L932.7,387.2 L934.0,387.3 L935.4,387.5 L936.8,387.6 L938.2,387.7 L939.6,387.8 L941.0,387.9 L942.4,388.0 L943.8,388.1 L945.2,388.2 L946.6,388.3 L947.9,388.4 L949.3,388.4 L950.7,388.5 L952.1,388.6 L953.5,388.7 L954.9,388.7 L956.3,388.8 L957.7,388.9 L959.1,388.9 L960.5,389.0 L961.9,389.0 L963.2,389.1 L964.6,389.1 L966.0,389.2 L967.4,389.2 L968.8,389.3 L970.2,389.3 L971.6,389.3 L973.0,389.4 L974.4,389.4 L975.8,389.5 L977.2,389.5 L978.6,389.5 L980.0,389.6 L981.3,389.6 L982.7,389.6 L984.1,389.7 L985.5,389.7 L986.9,389.7 L988.3,389.8 L989.7,389.8 L991.1,389.8 L992.5,389.9 L993.9,389.9 L995.3,390.0 L996.7,390.0 L998.1,390.0 L999.5,390.1 L1000.9,390.1 L1002.3,390.2 L1003.7,390.2 L1005.1,390.3 L1006.5,390.3 L1007.9,390.4 L1009.3,390.4 L1010.7,390.5 L1012.1,390.5" fill="none" stroke="#FF0000" stroke-width="2.8" stroke-linejoin="round" stroke-linecap="butt"/>
<path d="M609.5,403.5 L610.5,407.5" stroke="#FF0000" stroke-width="2.2"/>
<rect x="380.8" y="8" width="6.5" height="472" fill="#000"/>
<rect x="104.2" y="8.2" width="5.4" height="474.8" fill="#000"/>
<rect x="104.2" y="477" width="483.5" height="6" fill="#000"/>
<rect x="609" y="476" width="409.4" height="6" fill="#000"/>
<line x1="740.6" y1="44.3" x2="877.5" y2="44.3" stroke="#FF0000" stroke-width="3"/><polygon points="727.1,44.3 741.6,37.05 741.6,51.55" fill="#FF0000"/><polygon points="891,44.3 876.5,37.05 876.5,51.55" fill="#FF0000"/>
<line x1="698.2" y1="83.8" x2="927.9" y2="83.8" stroke="#000" stroke-width="2.5"/><polygon points="684.5,83.8 699.2,76.39999999999999 699.2,91.2" fill="#000"/><polygon points="941.6,83.8 926.9,76.39999999999999 926.9,91.2" fill="#000"/>
<line x1="660.1" y1="125.2" x2="963.4" y2="125.2" stroke="#B92A66" stroke-width="2.5"/><polygon points="646.6,125.2 661.1,117.95 661.1,132.45" fill="#B92A66"/><polygon points="976.9,125.2 962.4,117.95 962.4,132.45" fill="#B92A66"/>
<line x1="628.1" y1="161.4" x2="997.1999999999999" y2="161.4" stroke="#0000FF" stroke-width="2.5"/><polygon points="614.5,161.4 629.1,154.15 629.1,168.65" fill="#0000FF"/><polygon points="1010.8,161.4 996.1999999999999,154.15 996.1999999999999,168.65" fill="#0000FF"/>
<line x1="844.9" y1="279" x2="824.2" y2="348.5" stroke="#FF0000" stroke-width="2.8"/><polyline points="822.3,337.6 824.2,348.5 832.7,340.3" fill="none" stroke="#FF0000" stroke-width="2.8" stroke-linejoin="miter"/>
<line x1="900.2" y1="309" x2="879" y2="377" stroke="#000" stroke-width="2.6"/><polyline points="877.6,363.4 879,377 887.1,368.9" fill="none" stroke="#000" stroke-width="2.6" stroke-linejoin="miter"/>
<text x="0" y="0" transform="translate(48.51,209.48) scale(0.2390,0.2246)" font-family="'Liberation Sans', sans-serif" font-weight="normal" font-style="normal" fill="#000" stroke="#000" stroke-width="1.0">2600</text>
<text x="0" y="0" transform="translate(45.04,291.77) scale(0.2420,0.2310)" font-family="'Liberation Sans', sans-serif" font-weight="normal" font-style="normal" fill="#000" stroke="#000" stroke-width="1.0">2400</text>
<text x="0" y="0" transform="translate(45.06,371.47) scale(0.2383,0.2324)" font-family="'Liberation Sans', sans-serif" font-weight="normal" font-style="normal" fill="#000" stroke="#000" stroke-width="1.0">2200</text>
<text x="0" y="0" transform="translate(44.72,448.78) scale(0.2364,0.2197)" font-family="'Liberation Sans', sans-serif" font-weight="normal" font-style="normal" fill="#000" stroke="#000" stroke-width="1.0">2000</text>
<text x="0" y="0" transform="translate(175.84,507.71) scale(0.1889,0.1857)" font-family="'Liberation Sans', sans-serif" font-weight="normal" font-style="normal" fill="#000" stroke="#000" stroke-width="1.0">-5</text>
<text x="0" y="0" transform="translate(376.49,507.23) scale(0.2021,0.1718)" font-family="'Liberation Sans', sans-serif" font-weight="normal" font-style="normal" fill="#000" stroke="#000" stroke-width="1.0">0</text>
<text x="0" y="0" transform="translate(579.11,509.72) scale(0.1723,0.1843)" font-family="'Liberation Sans', sans-serif" font-weight="normal" font-style="normal" fill="#000" stroke="#000" stroke-width="1.0">5</text>
<text x="0" y="0" transform="translate(599.54,508.22) scale(0.1901,0.1771)" font-family="'Liberation Sans', sans-serif" font-weight="normal" font-style="normal" fill="#000" stroke="#000" stroke-width="1.0">-5</text>
<text x="0" y="0" transform="translate(628.23,507.32) scale(0.1927,0.1761)" font-family="'Liberation Sans', sans-serif" font-weight="normal" font-style="normal" fill="#000" stroke="#000" stroke-width="1.0">-4.3</text>
<text x="0" y="0" transform="translate(672.81,505.82) scale(0.1982,0.1831)" font-family="'Liberation Sans', sans-serif" font-weight="normal" font-style="normal" fill="#000" stroke="#000" stroke-width="1.0">-3.7</text>
<text x="0" y="0" transform="translate(717.20,504.40) scale(0.2000,0.1914)" font-family="'Liberation Sans', sans-serif" font-weight="normal" font-style="normal" fill="#000" stroke="#000" stroke-width="1.0">-2</text>
<text x="0" y="0" transform="translate(803.06,505.02) scale(0.2104,0.1761)" font-family="'Liberation Sans', sans-serif" font-weight="normal" font-style="normal" fill="#000" stroke="#000" stroke-width="1.0">0</text>
<text x="0" y="0" transform="translate(883.47,505.60) scale(0.1870,0.1843)" font-family="'Liberation Sans', sans-serif" font-weight="normal" font-style="normal" fill="#000" stroke="#000" stroke-width="1.0">2</text>
<text x="0" y="0" transform="translate(924.65,504.31) scale(0.1885,0.1873)" font-family="'Liberation Sans', sans-serif" font-weight="normal" font-style="normal" fill="#000" stroke="#000" stroke-width="1.0">3.7</text>
<text x="0" y="0" transform="translate(963.22,504.31) scale(0.1910,0.1873)" font-family="'Liberation Sans', sans-serif" font-weight="normal" font-style="normal" fill="#000" stroke="#000" stroke-width="1.0">4.3</text>
<text x="0" y="0" transform="translate(1008.23,504.31) scale(0.1915,0.1900)" font-family="'Liberation Sans', sans-serif" font-weight="normal" font-style="normal" fill="#000" stroke="#000" stroke-width="1.0">5</text>
<text x="0" y="0" transform="translate(394.62,177.08) scale(0.2690,0.3090)" font-family="'Liberation Serif', serif" font-weight="normal" font-style="normal" fill="#FF0000">250</text>
<text x="0" y="0" transform="translate(411.38,314.61) scale(0.2693,0.2971)" font-family="'Liberation Serif', serif" font-weight="normal" font-style="normal" fill="#000">100</text>
<text x="0" y="0" transform="translate(404.91,385.20) scale(0.2822,0.2985)" font-family="'Liberation Serif', serif" font-weight="normal" font-style="normal" fill="#C00000">50</text>
<text x="0" y="0" transform="translate(329.83,466.14) scale(0.2676,0.2600)" font-family="'Liberation Serif', serif" font-weight="bold" font-style="normal" fill="#000">(a)</text>
<text x="0" y="0" transform="translate(840.50,268.00) scale(0.2754,0.2985)" font-family="'Liberation Serif', serif" font-weight="normal" font-style="normal" fill="#FF0000">250</text>
<text x="0" y="0" transform="translate(893.11,304.43) scale(0.2657,0.2868)" font-family="'Liberation Serif', serif" font-weight="normal" font-style="normal" fill="#000">100</text>
<text x="0" y="0" transform="translate(818.13,429.39) scale(0.2778,0.3045)" font-family="'Liberation Serif', serif" font-weight="normal" font-style="normal" fill="#C00000">50</text>
<text x="0" y="0" transform="translate(764.14,465.32) scale(0.2640,0.2656)" font-family="'Liberation Serif', serif" font-weight="bold" font-style="normal" fill="#000">(b)</text>
<text x="0" y="0" transform="translate(751.91,39.47) scale(0.2298,0.2310)" font-family="'Liberation Sans', sans-serif" font-weight="normal" font-style="normal" fill="#FF0000" stroke="#FF0000" stroke-width="1.0">@ t = 250 sec</text>
<text x="0" y="0" transform="translate(750.37,78.52) scale(0.2292,0.2317)" font-family="'Liberation Sans', sans-serif" font-weight="normal" font-style="normal" fill="#000" stroke="#000" stroke-width="1.0">@ t = 100 sec</text>
<text x="0" y="0" transform="translate(752.96,122.76) scale(0.2297,0.2408)" font-family="'Liberation Sans', sans-serif" font-weight="normal" font-style="normal" fill="#B92A66" stroke="#B92A66" stroke-width="1.0">@ t = 50 sec</text>
<text x="0" y="0" transform="translate(752.13,157.66) scale(0.2337,0.2380)" font-family="'Liberation Sans', sans-serif" font-weight="normal" font-style="normal" fill="#0000FF" stroke="#0000FF" stroke-width="1.0">@ t = 0</text>
<text x="0" y="0" transform="translate(441.23,177.08) scale(0.2686,0.3090)" font-family="'Liberation Serif', serif" fill="#FF0000" stroke="#FF0000" stroke-width="0">sec</text>
<text x="0" y="0" transform="translate(456.63,314.61) scale(0.2686,0.2971)" font-family="'Liberation Serif', serif" fill="#000" stroke="#000" stroke-width="0">sec</text>
<text x="0" y="0" transform="translate(438.74,385.20) scale(0.2653,0.2985)" font-family="'Liberation Serif', serif" fill="#C00000" stroke="#C00000" stroke-width="0">sec</text>
<text x="0" y="0" transform="translate(887.54,268.00) scale(0.2653,0.2985)" font-family="'Liberation Serif', serif" fill="#FF0000" stroke="#FF0000" stroke-width="0">sec</text>
<text x="0" y="0" transform="translate(938.27,304.43) scale(0.2835,0.2868)" font-family="'Liberation Serif', serif" fill="#000" stroke="#000" stroke-width="0">sec</text>
<text x="0" y="0" transform="translate(851.53,429.39) scale(0.2678,0.3045)" font-family="'Liberation Serif', serif" fill="#C00000" stroke="#C00000" stroke-width="0">sec</text>
<text x="0" y="0" transform="translate(341.59,535.79) scale(0.2896,0.2578)" font-family="'Liberation Serif', serif" font-weight="bold" fill="#000"><tspan font-style="italic">x</tspan> (μm)</text>
<text x="0" y="0" transform="translate(769.79,535.56) scale(0.2896,0.2589)" font-family="'Liberation Serif', serif" font-weight="bold" fill="#000"><tspan font-style="italic">x</tspan> (μm)</text>
<text x="0" y="0" transform="translate(30.70,454.07) rotate(-90) scale(0.2870,0.3092)" font-family="'Liberation Serif', serif" font-weight="bold" fill="#000">Electrolyte concentration (mol/m<tspan font-size="60" dy="-30">3</tspan><tspan dy="30">)</tspan></text>
<rect x="807.8" y="5.3" width="6.6" height="472" fill="#000"/>
</svg></body></html>
